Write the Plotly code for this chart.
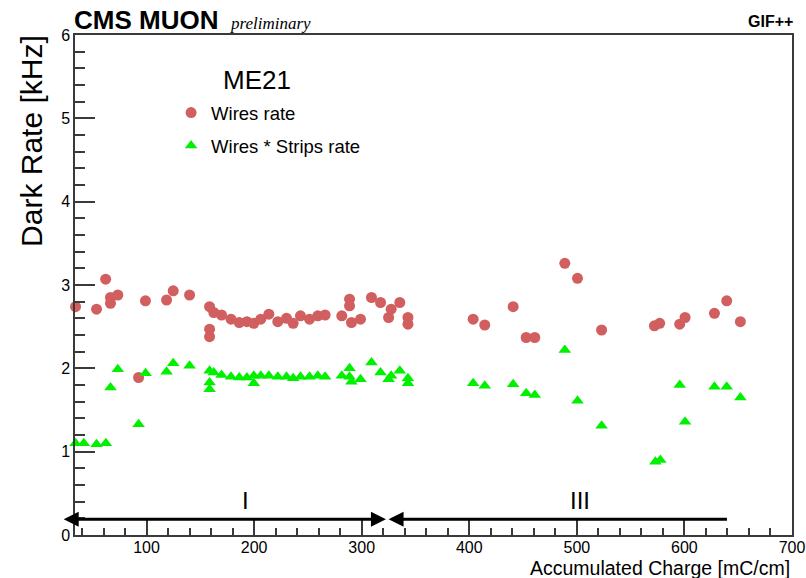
import plotly.graph_objects as go

# ---------------- data ----------------
wires_x = [34, 53.5, 62, 66.5, 66.5, 73.3, 92.6, 99, 118.6, 124.8, 140,
           158.6, 158.6, 158.6, 162.5, 169.7, 178.5, 186.2, 193.3, 199.7,
           206.2, 213.7, 222, 230.1, 236.3, 243.1, 251.5, 259.2, 266, 281.5,
           288.7, 288.7, 290.5, 298.9, 309.1, 317.5, 327.4, 325, 335.4, 343,
           343, 403.6, 414.4, 440.8, 452.9, 460.9, 488.8, 500.6, 523, 572.1,
           577, 595.6, 600.6, 627.9, 639.3, 652]
wires_rate = [2.74, 2.71, 3.07, 2.85, 2.78, 2.88, 1.89, 2.81, 2.82, 2.93, 2.88,
              2.74, 2.47, 2.38, 2.67, 2.64, 2.59, 2.55, 2.56, 2.54,
              2.59, 2.65, 2.56, 2.60, 2.54, 2.63, 2.59, 2.63, 2.64, 2.63,
              2.83, 2.75, 2.55, 2.59, 2.85, 2.79, 2.71, 2.61, 2.79, 2.61,
              2.53, 2.59, 2.52, 2.74, 2.37, 2.37, 3.26, 3.08, 2.46, 2.51,
              2.54, 2.53, 2.61, 2.66, 2.81, 2.56]

ws_x = [34, 41.7, 53.5, 62.2, 66.5, 73.3, 92.6, 99.1, 118.6, 124.8, 140,
        158.6, 158.6, 158.6, 162.5, 169.7, 178.5, 186.2, 193.3, 199.7, 199.7,
        206.2, 213.7, 222, 230.1, 236.3, 243.1, 251.5, 259.2, 266, 281.5,
        288.7, 288.7, 290.5, 298.9, 309.1, 317.5, 327.4, 325, 335.4, 343,
        343, 403.6, 414.4, 440.8, 452.9, 460.9, 488.8, 500.6, 523, 573,
        577.6, 595.6, 600.6, 627.9, 639.3, 652]
ws_rate = [1.10, 1.10, 1.09, 1.10, 1.77, 1.99, 1.33, 1.94, 1.96, 2.06, 2.03,
           1.97, 1.83, 1.75, 1.95, 1.92, 1.90, 1.89, 1.89, 1.91, 1.82,
           1.91, 1.91, 1.90, 1.90, 1.88, 1.90, 1.90, 1.91, 1.90, 1.91,
           2.00, 1.90, 1.84, 1.87, 2.07, 1.95, 1.91, 1.87, 1.97, 1.88,
           1.82, 1.82, 1.79, 1.81, 1.70, 1.68, 2.22, 1.61, 1.31, 0.88,
           0.90, 1.80, 1.36, 1.78, 1.78, 1.65]

phase_names = ["I", "III"]
phase_start = [23, 325]
phase_end = [323, 640]
phase_both_heads = [True, False]
phase_label_x = [192, 503]
phase_label_y = 0.42
phase_arrow_y = 0.19

x_range = [33.5, 700]
y_range = [0, 6]

# ---------------- style ----------------
FONT = "Liberation Sans, Arial, sans-serif"
RED = "#d15f5f"
GREEN = "#00f000"
AXC = "#3a3a3a"

fig = go.Figure()
fig.add_trace(go.Scatter(
    x=wires_x, y=wires_rate, mode="markers", name="Wires rate",
    marker=dict(symbol="circle", size=11, color=RED), legend="legend",
    cliponaxis=False))
fig.add_trace(go.Scatter(
    x=ws_x, y=ws_rate, mode="markers", name="Wires * Strips rate",
    marker=dict(symbol="triangle-up", size=11, color=GREEN), legend="legend2",
    cliponaxis=False))

annotations = []
for name, s, e, both, lx in zip(phase_names, phase_start, phase_end,
                                phase_both_heads, phase_label_x):
    annotations.append(dict(
        x=s, y=phase_arrow_y, ax=e, ay=phase_arrow_y,
        xref="x", yref="y", axref="x", ayref="y",
        text=" ", font=dict(size=1), showarrow=True,
        arrowside="end+start" if both else "end",
        arrowhead=2, startarrowhead=2, arrowsize=1, startarrowsize=1,
        arrowwidth=3, arrowcolor="black", borderpad=0))
    annotations.append(dict(
        x=lx, y=phase_label_y, xref="x", yref="y", text=name,
        showarrow=False, font=dict(family=FONT, size=24, color="black")))

# titles and header texts
annotations += [
    dict(x=-0.004, y=1.03, xref="paper", yref="paper", xanchor="left", yanchor="middle",
         text="<b>CMS MUON</b>", showarrow=False,
         font=dict(family=FONT, size=26, color="black")),
    dict(x=0.213, y=1.022, xref="paper", yref="paper", xanchor="left", yanchor="middle",
         text="<i>preliminary</i>", showarrow=False,
         font=dict(family="Liberation Serif, Times New Roman, serif", size=17,
                   color="black")),
    dict(x=1.004, y=1.026, xref="paper", yref="paper", xanchor="right", yanchor="middle",
         text="<b>GIF++</b>", showarrow=False,
         font=dict(family=FONT, size=16, color="black")),
    dict(x=0.2545, y=0.91, xref="paper", yref="paper", xanchor="center", yanchor="middle",
         text="ME21", showarrow=False,
         font=dict(family=FONT, size=26, color="black")),
    dict(x=-0.0615, y=1.004, xref="paper", yref="paper", xanchor="center", yanchor="top",
         text="Dark Rate [kHz]", textangle=-90, showarrow=False,
         font=dict(family=FONT, size=30, color="black")),
    dict(x=1.0, y=-0.066, xref="paper", yref="paper", xanchor="right", yanchor="middle",
         text="Accumulated Charge [mC/cm]", showarrow=False,
         font=dict(family=FONT, size=19.5, color="black")),
]

axis_common = dict(
    showgrid=False, zeroline=False, showline=True, linecolor=AXC, linewidth=1.5,
    mirror=True, ticks="inside", tickcolor=AXC, tickwidth=1.5,
    tickfont=dict(family=FONT, size=16, color="black"), automargin=False,
)

fig.update_layout(
    width=806, height=578,
    margin=dict(l=75, r=14, t=35, b=43),
    paper_bgcolor="white", plot_bgcolor="white",
    xaxis=dict(range=x_range, dtick=100, tick0=0, ticklen=15, ticklabelstandoff=-3,
               minor=dict(dtick=20, tick0=0, ticks="inside", ticklen=7,
                          tickcolor=AXC, tickwidth=1.5, showgrid=False),
               **axis_common),
    yaxis=dict(range=y_range, dtick=1, tick0=0, ticklen=20,
               minor=dict(dtick=0.2, tick0=0, ticks="inside", ticklen=10,
                          tickcolor=AXC, tickwidth=1.5, showgrid=False),
               **axis_common),
    legend=dict(x=0.134, y=0.844, xanchor="left", yanchor="middle",
                bgcolor="rgba(0,0,0,0)", borderwidth=0,
                font=dict(family=FONT, size=18.5, color="black")),
    legend2=dict(x=0.134, y=0.778, xanchor="left", yanchor="middle",
                 bgcolor="rgba(0,0,0,0)", borderwidth=0,
                 font=dict(family=FONT, size=18.5, color="black")),
    annotations=annotations,
    showlegend=True,
)

fig.write_html("out.html")
